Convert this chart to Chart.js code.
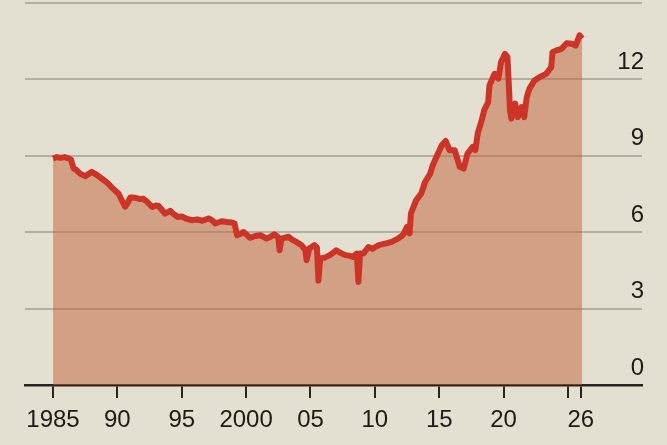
<!DOCTYPE html>
<html>
<head>
<meta charset="utf-8">
<script src="https://cdn.jsdelivr.net/npm/chart.js@4.4.1/dist/chart.umd.min.js"></script>
<style>
  html, body { margin: 0; padding: 0; background: #e3dfd1; }
  #wrap { width: 667px; height: 445px; position: relative; }
</style>
</head>
<body>
<div id="wrap"><canvas id="myChart"></canvas></div>
<script>
// Dates as decimal years
var years = [
  1985.0, 1985.3, 1985.6, 1985.9, 1986.2, 1986.4, 1986.6, 1986.8, 1987.1, 1987.5,
  1987.8, 1988.0, 1988.4, 1988.8, 1989.2, 1989.6, 1989.9, 1990.1, 1990.4, 1990.6,
  1990.8, 1991.0, 1991.4, 1991.8, 1992.0, 1992.3, 1992.7, 1993.0, 1993.2, 1993.5,
  1993.7, 1994.1, 1994.4, 1994.7, 1995.0, 1995.4, 1995.8, 1996.2, 1996.6, 1997.1,
  1997.4, 1997.6, 1998.1, 1998.5, 1998.9, 1999.1, 1999.3, 1999.6, 1999.8, 2000.3,
  2000.7, 2001.1, 2001.6, 2002.0, 2002.2, 2002.5, 2002.6, 2002.75, 2003.3, 2003.6,
  2003.9, 2004.3, 2004.6, 2004.7, 2004.9, 2005.3, 2005.5, 2005.62, 2005.75, 2006.1,
  2006.5, 2007.0, 2007.3, 2007.7, 2008.0, 2008.3, 2008.6, 2008.72, 2008.85, 2009.1,
  2009.5, 2009.8, 2010.3, 2010.8, 2011.3, 2011.8, 2012.2, 2012.5, 2012.7, 2012.8,
  2013.2, 2013.6, 2013.9, 2014.3, 2014.5, 2014.9, 2015.2, 2015.5, 2015.8, 2016.2,
  2016.6, 2016.9, 2017.2, 2017.6, 2017.8, 2018.0, 2018.3, 2018.5, 2018.8, 2018.9,
  2019.3, 2019.6, 2019.8, 2020.1, 2020.3, 2020.5, 2020.6, 2020.9, 2021.1, 2021.4,
  2021.6, 2021.8, 2022.0, 2022.4, 2022.8, 2023.3, 2023.7, 2023.8, 2024.1, 2024.5,
  2024.9, 2025.3, 2025.6, 2025.9, 2026.1
];
var values = [
  8.90, 8.95, 8.92, 8.95, 8.90, 8.85, 8.50, 8.45, 8.30, 8.20,
  8.30, 8.37, 8.25, 8.10, 7.95, 7.74, 7.60, 7.50, 7.20, 7.00,
  7.15, 7.36, 7.35, 7.30, 7.32, 7.20, 6.99, 7.05, 7.03, 6.85,
  6.73, 6.84, 6.70, 6.60, 6.62, 6.52, 6.47, 6.50, 6.45, 6.54,
  6.45, 6.34, 6.43, 6.40, 6.38, 6.35, 5.88, 5.95, 6.01, 5.78,
  5.85, 5.88, 5.75, 5.85, 5.92, 5.80, 5.29, 5.75, 5.82, 5.70,
  5.62, 5.49, 5.30, 4.90, 5.36, 5.49, 5.40, 4.10, 4.97, 5.00,
  5.10, 5.29, 5.20, 5.10, 5.08, 5.03, 5.16, 4.05, 5.16, 5.16,
  5.42, 5.35, 5.49, 5.55, 5.62, 5.75, 5.90, 6.21, 5.95, 6.73,
  7.25, 7.52, 7.97, 8.30, 8.63, 9.09, 9.41, 9.58, 9.22, 9.22,
  8.56, 8.50, 9.09, 9.35, 9.22, 9.90, 10.40, 10.80, 11.10, 11.76,
  12.22, 12.03, 12.68, 13.00, 12.88, 10.78, 10.46, 11.05, 10.52, 10.91,
  10.52, 11.30, 11.63, 11.96, 12.09, 12.22, 12.48, 13.07, 13.14, 13.20,
  13.42, 13.40, 13.33, 13.73, 13.60
];
var xTicks = [1985, 1990, 1995, 2000, 2005, 2010, 2015, 2020, 2025, 2026];
var xTickLabels = ["1985", "90", "95", "2000", "05", "10", "15", "20", "", "26"];
var yTicks = [0, 3, 6, 9, 12, 15];

var fontFamily = "'Liberation Sans', Arial, sans-serif";
var ink = "#1e1a16";

var points = years.map(function (x, i) {
  return { x: x, y: values[i] };
});

var ctx = document.getElementById("myChart");
var myChart = new Chart(ctx, {
  type: "line",
  data: {
    datasets: [
      {
        data: points,
        borderColor: "#cb3426",
        borderWidth: 6,
        borderJoinStyle: "round",
        borderCapStyle: "butt",
        backgroundColor: "rgba(193, 97, 55, 0.5)",
        fill: "origin",
        pointRadius: 0,
        tension: 0,
      },
    ],
  },
  options: {
    responsive: true,
    maintainAspectRatio: false,
    animation: false,
    layout: {
      padding: { left: 25, right: 25, top: 3, bottom: 0 },
    },
    plugins: {
      legend: { display: false },
      tooltip: { enabled: false },
    },
    scales: {
      x: {
        type: "linear",
        min: 1982.825,
        max: 2030.75,
        afterBuildTicks: function (scale) {
          scale.ticks = xTicks.map(function (v) { return { value: v }; });
        },
        afterFit: function (scale) {
          scale.height = 60;
          scale.paddingLeft = 0;
          scale.paddingRight = 0;
        },
        grid: {
          drawOnChartArea: false,
          drawTicks: true,
          tickLength: 13,
          color: "#2a241c",
          lineWidth: 2,
        },
        border: {
          display: true,
          color: "#2a241c",
          width: 2.5,
        },
        ticks: {
          autoSkip: false,
          maxRotation: 0,
          padding: 8,
          color: ink,
          font: { size: 24, family: fontFamily },
          callback: function (value) {
            var i = xTicks.indexOf(value);
            return i >= 0 ? xTickLabels[i] : "";
          },
        },
      },
      y: {
        position: "right",
        min: 0,
        max: 15,
        afterBuildTicks: function (scale) {
          scale.ticks = yTicks.map(function (v) { return { value: v }; });
        },
        afterFit: function (scale) {
          scale.width = 0;
          scale.paddingTop = 0;
          scale.paddingBottom = 0;
        },
        grid: {
          drawTicks: false,
          color: "#b4afa2",
          lineWidth: 2,
        },
        border: { display: false },
        ticks: {
          mirror: true,
          padding: 2,
          labelOffset: -17,
          color: ink,
          font: { size: 24, family: fontFamily },
          callback: function (value) {
            return value === 15 ? "" : String(value);
          },
        },
      },
    },
  },
});
</script>
</body>
</html>
